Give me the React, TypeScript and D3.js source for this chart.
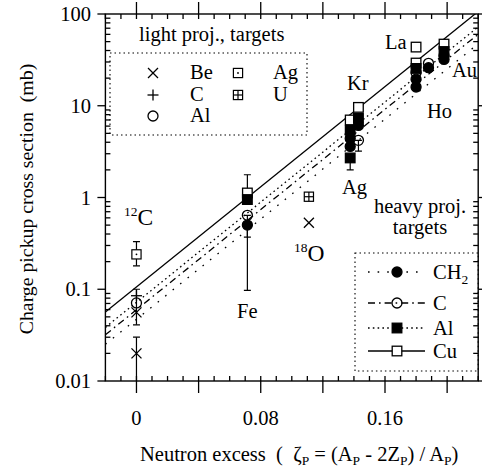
import React from "react";
import * as d3 from "d3";

// ---------- data ----------
// light projectiles (symbol = target)
const beZeta = [0, 0, 0.111];
const beVal = [0.056, 0.02, 0.53];
const cZetaL = [0];
const cValL = [0.085];
const alZetaL = [0];
const alValL = [0.071];
const agZetaL = [0];
const agValL = [0.24];
const uZetaL = [0.111];
const uValL = [1.02];

// heavy projectiles (symbol = target)
const cuZeta = [0.0714, 0.1376, 0.1429, 0.18, 0.18, 0.198];
const cuVal = [1.12, 7.0, 9.6, 43.6, 29.2, 47.0];
const alZetaH = [0.0714, 0.1376, 0.1376, 0.1429, 0.18, 0.198];
const alValH = [0.95, 5.4, 2.7, 7.3, 25.5, 39.0];
const cZetaH = [0.0714, 0.1429, 0.18, 0.188, 0.198];
const cValH = [0.64, 4.2, 23.0, 29.0, 35.0];
const ch2Zeta = [0.0714, 0.1376, 0.1376, 0.1429, 0.18, 0.18, 0.188, 0.198];
const ch2Val = [0.5, 4.4, 3.6, 6.1, 19.5, 16.0, 26.0, 32.0];

// error bars
const errZeta = [0, 0, 0, 0.0714, 0.0714, 0.0714, 0.1376, 0.1429];
const errLo = [0.18, 0.041, 0.004, 1.12, 0.097, 0.37, 2.0, 3.2];
const errHi = [0.33, 0.1, 0.03, 1.77, 0.64, 0.5, 2.7, 4.2];

// fitted lines (values at the ends of the zeta range)
const lineZeta = [-0.02, 0.22];
const cuLine = [0.0565, 106.6];
const alLine = [0.0384, 72.5];
const cLine = [0.0319, 60.2];
const ch2Line = [0.0251, 47.3];

// axis ticks
const xLabelTicks = [0, 0.08, 0.16];
const yLabelTicks = [0.01, 0.1, 1, 10, 100];
const yLabelText = ["0.01", "0.1", "1", "10", "100"];

const FONT = "'Liberation Serif', 'Times New Roman', serif";
const FS = 20.5;

type MType = "sqOpen" | "sqFill" | "cOpen" | "cFill" | "x" | "plus" | "sqDot" | "sqCross";

function Marker({ t, cx, cy }: { t: MType; cx: number; cy: number }) {
  const s = 4.8;
  const sw = 1.3;
  switch (t) {
    case "sqOpen":
      return <rect x={cx - s} y={cy - s} width={2 * s} height={2 * s} fill="white" stroke="black" strokeWidth={sw} />;
    case "sqFill":
      return <rect x={cx - s} y={cy - s} width={2 * s} height={2 * s} fill="black" stroke="black" strokeWidth={sw} />;
    case "cOpen":
      return <circle cx={cx} cy={cy} r={5} fill="none" stroke="black" strokeWidth={sw} />;
    case "cFill":
      return <circle cx={cx} cy={cy} r={5} fill="black" stroke="black" strokeWidth={sw} />;
    case "x":
      return (
        <g stroke="black" strokeWidth={1.3}>
          <line x1={cx - 5} y1={cy - 5} x2={cx + 5} y2={cy + 5} />
          <line x1={cx - 5} y1={cy + 5} x2={cx + 5} y2={cy - 5} />
        </g>
      );
    case "plus":
      return (
        <g stroke="black" strokeWidth={1.3}>
          <line x1={cx - 5.5} y1={cy} x2={cx + 5.5} y2={cy} />
          <line x1={cx} y1={cy - 5.5} x2={cx} y2={cy + 5.5} />
        </g>
      );
    case "sqDot":
      return (
        <g>
          <rect x={cx - 4.6} y={cy - 4.6} width={9.2} height={9.2} fill="white" stroke="black" strokeWidth={1.2} />
          <circle cx={cx} cy={cy} r={0.9} fill="black" />
        </g>
      );
    case "sqCross":
      return (
        <g stroke="black" strokeWidth={1.2}>
          <rect x={cx - 4.6} y={cy - 4.6} width={9.2} height={9.2} fill="white" />
          <line x1={cx - 4.6} y1={cy} x2={cx + 4.6} y2={cy} />
          <line x1={cx} y1={cy - 4.6} x2={cx} y2={cy + 4.6} />
        </g>
      );
  }
  return null;
}

export default function App() {
  const W = 482, H = 469;
  const L = 105.4, R = 478.2, T = 14, B = 381;
  const x = d3.scaleLinear().domain([-0.02, 0.22]).range([L, R]);
  const y = d3.scaleLog().domain([0.01, 100]).range([B, T]);

  const xMinor = d3.range(-0.02, 0.2201, 0.01).map((v) => +v.toFixed(3));
  const xMajor = d3.range(0, 0.2001, 0.04).map((v) => +v.toFixed(3));
  const yAll = y.ticks();
  const yMajor = yLabelTicks;
  const yMinor = yAll.filter((v) => !yMajor.some((m) => Math.abs(m - v) / m < 1e-6));

  const line = d3
    .line<[number, number]>()
    .x((d) => x(d[0]))
    .y((d) => y(d[1]));
  const mk = (vals: number[]) => lineZeta.map((z, i) => [z, vals[i]] as [number, number]);

  const fits: { vals: number[]; dash: string }[] = [
    { vals: ch2Line, dash: "1.6,8" },
    { vals: cLine, dash: "7,4,1.6,4" },
    { vals: alLine, dash: "1.6,3.2" },
    { vals: cuLine, dash: "" },
  ];

  const pts = (zs: number[], vs: number[], t: MType) =>
    zs.map((z, i) => <Marker key={t + i} t={t} cx={x(z)} cy={y(vs[i])} />);

  const textStyle = { fontFamily: FONT, fontSize: FS, fill: "black" } as const;

  const legRows: { name: string; sub?: string; t: MType; dash: string; yy: number }[] = [
    { name: "CH", sub: "2", t: "cFill", dash: "1.6,8", yy: 272 },
    { name: "C", t: "cOpen", dash: "7,4,1.6,4", yy: 303 },
    { name: "Al", t: "sqFill", dash: "1.6,3.2", yy: 328 },
    { name: "Cu", t: "sqOpen", dash: "", yy: 351 },
  ];

  return (
    <svg width={W} height={H} style={{ position: "absolute", left: 0, top: 0, background: "white" }}>
      <defs>
        <clipPath id="plotClip">
          <rect x={L} y={T} width={R - L} height={B - T} />
        </clipPath>
      </defs>

      {/* fitted lines */}
      <g clipPath="url(#plotClip)">
        {fits.map((f, i) => (
          <path key={i} d={line(mk(f.vals)) || ""} fill="none" stroke="black" strokeWidth={1.3} strokeDasharray={f.dash} />
        ))}
      </g>

      {/* error bars */}
      <g clipPath="url(#plotClip)" stroke="black" strokeWidth={1.2}>
        {errZeta.map((z, i) => {
          const cx = x(z);
          return (
            <g key={i}>
              <line x1={cx} x2={cx} y1={y(errLo[i])} y2={y(errHi[i])} />
              <line x1={cx - 3.5} x2={cx + 3.5} y1={y(errLo[i])} y2={y(errLo[i])} />
              <line x1={cx - 3.5} x2={cx + 3.5} y1={y(errHi[i])} y2={y(errHi[i])} />
            </g>
          );
        })}
      </g>

      {/* points */}
      <g>
        {pts(agZetaL, agValL, "sqDot")}
        {pts(uZetaL, uValL, "sqCross")}
        {pts(cZetaL, cValL, "plus")}
        {pts(alZetaL, alValL, "cOpen")}
        {pts(beZeta, beVal, "x")}
        {pts(cuZeta, cuVal, "sqOpen")}
        {pts(alZetaH, alValH, "sqFill")}
        {pts(cZetaH, cValH, "cOpen")}
        {pts(ch2Zeta, ch2Val, "cFill")}
      </g>

      {/* frame */}
      <rect x={L} y={T} width={R - L} height={B - T} fill="none" stroke="black" strokeWidth={1.4} />

      {/* ticks */}
      <g stroke="black" strokeWidth={1.3}>
        {xMinor.map((v, i) => (
          <g key={"xm" + i}>
            <line x1={x(v)} x2={x(v)} y1={B} y2={B - 5} />
            <line x1={x(v)} x2={x(v)} y1={T} y2={T + 5} />
          </g>
        ))}
        {xMajor.map((v, i) => (
          <g key={"xM" + i}>
            <line x1={x(v)} x2={x(v)} y1={B} y2={B + 12} />
            <line x1={x(v)} x2={x(v)} y1={T} y2={T - 12} />
          </g>
        ))}
        {yMinor.map((v, i) => (
          <g key={"ym" + i}>
            <line x1={L} x2={L + 5} y1={y(v)} y2={y(v)} />
            <line x1={R} x2={R - 5} y1={y(v)} y2={y(v)} />
          </g>
        ))}
        {yMajor.map((v, i) => (
          <g key={"yM" + i}>
            <line x1={L} x2={L - 8} y1={y(v)} y2={y(v)} />
            <line x1={R} x2={R + 8} y1={y(v)} y2={y(v)} />
          </g>
        ))}
      </g>

      {/* tick labels */}
      {xLabelTicks.map((v, i) => (
        <text key={"xl" + i} x={x(v)} y={425} textAnchor="middle" style={textStyle}>
          {v === 0 ? "0" : String(v)}
        </text>
      ))}
      {yMajor.map((v, i) => (
        <text key={"yl" + i} x={91} y={y(v) + 7} textAnchor="end" style={textStyle}>
          {yLabelText[i]}
        </text>
      ))}

      {/* axis titles */}
      <text transform="translate(33,199) rotate(-90)" textAnchor="middle" style={{ ...textStyle, fontSize: 19.8, whiteSpace: "pre" }}>
        {"Charge pickup cross section  (mb)"}
      </text>
      <text x={140} y={461} style={{ ...textStyle, whiteSpace: "pre" }}>
        {"Neutron excess  (  ζ"}
        <tspan fontSize={13.5} dy={4}>P</tspan>
        <tspan dy={-4}>{" = (A"}</tspan>
        <tspan fontSize={13.5} dy={4}>P</tspan>
        <tspan dy={-4}>{" - 2Z"}</tspan>
        <tspan fontSize={13.5} dy={4}>P</tspan>
        <tspan dy={-4}>{") / A"}</tspan>
        <tspan fontSize={13.5} dy={4}>P</tspan>
        <tspan dy={-4}>{")"}</tspan>
      </text>

      {/* light projectile legend */}
      <text x={139} y={41} style={textStyle}>light proj., targets</text>
      <rect x={110} y={53} width={197} height={82} fill="none" stroke="black" strokeWidth={1.1} strokeDasharray="1.5,3" />
      <Marker t="x" cx={153} cy={73} />
      <text x={190} y={79} style={textStyle}>Be</text>
      <Marker t="plus" cx={153} cy={95} />
      <text x={190} y={101} style={textStyle}>C</text>
      <Marker t="cOpen" cx={153} cy={116} />
      <text x={190} y={122} style={textStyle}>Al</text>
      <Marker t="sqDot" cx={238} cy={73} />
      <text x={273} y={79} style={textStyle}>Ag</text>
      <Marker t="sqCross" cx={238} cy={95} />
      <text x={273} y={101} style={textStyle}>U</text>

      {/* point labels */}
      <text x={124} y={225} style={{ ...textStyle, fontSize: 23.5 }}>
        <tspan fontSize={13.5} dy={-9}>12</tspan>
        <tspan dy={9}>C</tspan>
      </text>
      <text x={237} y={318} style={textStyle}>Fe</text>
      <text x={294} y={261} style={{ ...textStyle, fontSize: 23.5 }}>
        <tspan fontSize={13.5} dy={-9}>18</tspan>
        <tspan dy={9}>O</tspan>
      </text>
      <text x={342} y={194} style={textStyle}>Ag</text>
      <text x={347} y={90} style={textStyle}>Kr</text>
      <text x={385} y={49} style={textStyle}>La</text>
      <text x={452} y={77} style={textStyle}>Au</text>
      <text x={427} y={118} style={textStyle}>Ho</text>
      <text x={420} y={213} textAnchor="middle" style={textStyle}>heavy proj.</text>
      <text x={420} y={234} textAnchor="middle" style={textStyle}>targets</text>

      {/* heavy projectile legend */}
      <rect x={355} y={253} width={R - 355} height={118} fill="none" stroke="black" strokeWidth={1.1} strokeDasharray="1.5,3" />
      {legRows.map((r, i) => (
        <g key={"lg" + i}>
          <line x1={368} x2={425} y1={r.yy} y2={r.yy} stroke="black" strokeWidth={1.3} strokeDasharray={r.dash} />
          <Marker t={r.t} cx={397} cy={r.yy} />
          <text x={433} y={r.yy + 7} style={textStyle}>
            {r.name}
            {r.sub ? <tspan fontSize={13.5} dy={5}>{r.sub}</tspan> : null}
          </text>
        </g>
      ))}
    </svg>
  );
}
